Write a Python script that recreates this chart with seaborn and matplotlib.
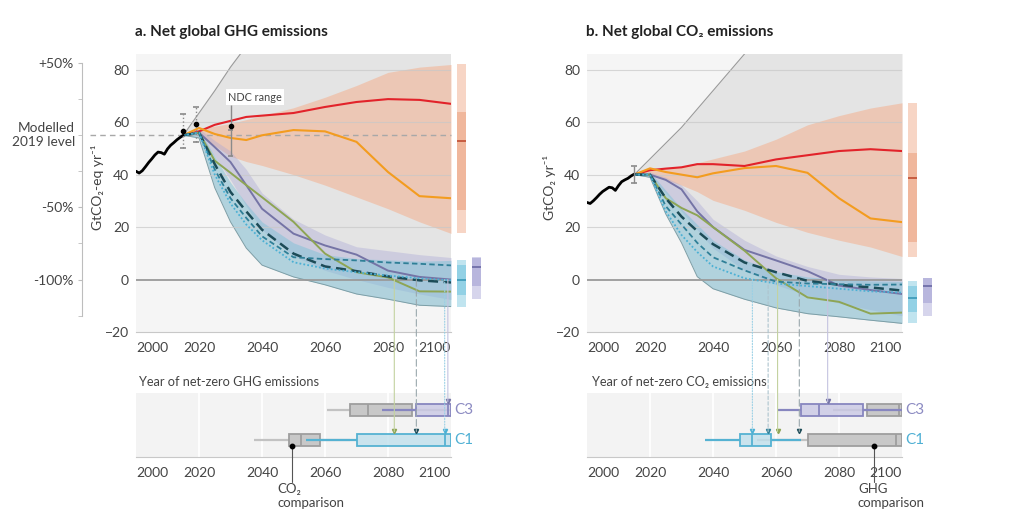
import numpy as np
import pandas as pd
import seaborn as sns
import matplotlib.pyplot as plt
import matplotlib.transforms as mtransforms
from matplotlib.patches import ConnectionPatch

# Historical emissions (black line)
hist_years = list(range(2000, 2016))
hist_ghg = [41.3, 40.6, 41.5, 43.0, 44.6, 46.0, 47.5, 48.6, 48.4, 47.8, 49.8, 51.2, 52.2, 53.3, 54.2, 55.0]
hist_co2 = [29.4, 29.0, 30.0, 31.2, 32.5, 33.6, 34.4, 35.2, 35.0, 34.0, 35.8, 37.3, 38.0, 38.6, 39.5, 40.2]

# scenario years shared by every pathway / range
years = [2015, 2020, 2025, 2030, 2035, 2040, 2050, 2060, 2070, 2080, 2090, 2100]

# a. net GHG (GtCO2-eq/yr)
grey_up_a = [55, 63.5, 72, 81, 89, 97, 113, 129, 145, 161, 177, 193]
ora_hi_a = [55, 57.5, 58.5, 59.5, 61, 62.5, 65.5, 69.5, 74, 79, 81, 82]
ora_lo_a = [55, 55, 51, 47, 45, 43.5, 40, 36, 31.5, 27, 22, 17.6]
c3_hi_a = [55, 57.5, 53, 49, 42, 33, 23, 17, 12.5, 11, 9.5, 8.4]
c3_lo_a = [55, 55, 47, 38, 28, 19, 9, 3.5, 0, -3, -5.5, -7.6]
c1_hi_a = [55, 57, 47, 37, 29, 22, 14, 9.5, 8, 7.5, 7, 7.3]
c1_lo_a = [55, 54, 35, 22, 12, 5.5, 1, -2, -5.5, -7.5, -9.8, -10.3]
curpol_a = [55, 56.5, 59, 60.5, 62, 62.5, 63.5, 65.8, 67.7, 68.8, 68.5, 67]
modact_a = [55, 57.8, 55.5, 54, 53.2, 55, 57, 56.5, 52.5, 41, 31.8, 31]
gs_a = [55, 56, 50.5, 44.8, 36, 27, 17.5, 13, 9.5, 3.4, 1, 0]
neg_a = [55, 56, 45.3, 40.7, 36, 31.4, 22, 9.9, 2.8, 0.8, -4.5, -4.6]
ren_a = [55, 56, 44, 33.4, 26, 19, 9.9, 5, 3.2, 1.2, -0.3, -1.1]
sp_a = [55, 56, 42, 31, 23.5, 16.5, 8.5, 7.8, 7.3, 6.5, 6, 5.4]
ld_a = [55, 56, 40, 29, 21, 15, 6.6, 4.2, 2.8, 1.5, 0.5, -0.3]

# b. net CO2 (GtCO2/yr)
grey_up_b = [40, 46, 52, 58, 65, 72, 86, 100, 114, 128, 142, 156]
ora_hi_b = [40, 42, 42.5, 43, 44.5, 46, 49, 53.5, 59, 62.5, 65.4, 67.4]
ora_lo_b = [40, 40, 38, 36, 33.5, 30.2, 26.4, 21.8, 18, 15, 12.4, 8.8]
c3_hi_b = [40, 41, 39, 36, 30, 23, 15, 9, 5, 2, 1, 0.4]
c3_lo_b = [40, 39, 33, 26, 19, 12, 3.5, -2, -6, -9, -11.5, -13.8]
c1_hi_b = [40, 41, 34, 27, 21, 15, 7.5, 3, 1, 0, -0.5, -0.7]
c1_lo_b = [40, 39, 25, 14, 1.1, -3.5, -7.5, -10.8, -13, -14.2, -15.5, -16.7]
curpol_b = [40, 41.7, 42.3, 42.8, 44, 44, 43.3, 45.8, 47.4, 49, 49.7, 49]
modact_b = [40, 42.4, 41, 40, 39, 40.5, 42.5, 43.3, 40.7, 31, 23.3, 21.9]
gs_b = [40, 40, 38, 34.4, 26, 20, 11.3, 7.3, 3.2, -2.3, -4, -5.5]
neg_b = [40, 40, 31, 27.3, 24.5, 20, 11, 0.5, -6.8, -8.5, -13, -12.6]
ren_b = [40, 40, 31, 24, 18.5, 13.5, 6.5, 2.8, -0.5, -2, -3, -4.2]
sp_b = [40, 40, 28, 21, 14, 8.5, 3.5, -0.8, -1.5, -1.8, -2, -1.9]
ld_b = [40, 40, 26, 17, 10.5, 5, 0.5, -1.5, -2.5, -3.5, -4.5, -5]

# 2100 ranges (p5, p25, median, p75, p95) shown as bars right of the panels
bar_ora_a = [17.6, 26.4, 53, 64, 82]
bar_c1_a = [-10.3, -6, 0, 5.4, 7.3]
bar_c3_a = [-7.6, -2.3, 4.6, 8.4, 8.6]
bar_ora_b = [8.5, 14.3, 38.7, 48.3, 67.4]
bar_c1_b = [-16.7, -12.5, -7.1, -2.3, -0.7]
bar_c3_b = [-13.8, -9, -2.5, 0.4, 0.6]

# error bars: year, point, low, high
err_years_a = [2015, 2019, 2030]
err_mid_a = [56.6, 59.2, 58.5]
err_lo_a = [50, 52.4, 47]
err_hi_a = [63, 65.7, 57]
err_lo_b = 36.8
err_hi_b = 43.3

# year of net zero: whislo, q1, median, q3, whishi
nz_ghg_c1 = [2054, 2070, 2098, 2100, 2100]
nz_ghg_c3 = [2078, 2089, 2099, 2100, 2100]
nz_co2_c1 = [2037.5, 2048.5, 2052.5, 2058.5, 2068]
nz_co2_c3 = [2060.5, 2068, 2073.5, 2087.5, 2100]

# illustrative pathway net-zero years (triangles + connector lines)
nz_paths_a = ["Neg", "Ren", "LD", "GS"]
nz_years_a = [2082, 2089, 2098, 2099]
nz_rows_a = ["C1", "C1", "C1", "C3"]
nz_paths_b = ["LD", "SP", "Neg", "Ren", "GS"]
nz_years_b = [2052.5, 2057.5, 2060.5, 2067.4, 2076.4]
nz_rows_b = ["C1", "C1", "C1", "C1", "C3"]
comparison_dot_a = 2049.6
comparison_dot_b = 2091

path_colors = {"CurPol": "#e2232a", "ModAct": "#f39c1f", "GS": "#7574a6", "Neg": "#8ea554",
               "Ren": "#1c4b57", "SP": "#2f7f97", "LD": "#4bb0d4"}
path_widths = {"CurPol": 1.5, "ModAct": 1.5, "GS": 1.4, "Neg": 1.4, "Ren": 1.8, "SP": 1.3, "LD": 1.3}
path_dashes = {"CurPol": "", "ModAct": "", "GS": "", "Neg": "", "Ren": (4, 2.2), "SP": (3, 1.8), "LD": (1, 1.2)}
conn_colors = {"GS": "#c4c3e0", "Neg": "#c3d2a0", "Ren": "#9aa8ad", "SP": "#adc4ce", "LD": "#9ad0e5"}
conn_dashes = {"GS": "-", "Neg": "-", "Ren": (0, (6, 3)), "SP": (0, (3, 2)), "LD": (0, (1, 1.5))}
row_pos = {"C1": 0, "C3": 1}

sns.set_style("white")
plt.rcParams["font.family"] = ["Liberation Sans Narrow", "Lato", "DejaVu Sans"]
TXT = "#444444"

fig = plt.figure(figsize=(10.24, 5.32), dpi=100)


def fx(px):
    return px / 1024


def fy(py):
    return 1 - py / 532


ax_a = fig.add_axes([fx(136), fy(332), fx(315), 278 / 532])
ax_b = fig.add_axes([fx(587), fy(332), fx(315), 278 / 532])
bx_a = fig.add_axes([fx(136), fy(457), fx(315), 64 / 532])
bx_b = fig.add_axes([fx(587), fy(457), fx(315), 64 / 532])


def year_ticks(ax):
    ax.set_xticks([2000, 2020, 2040, 2060, 2080, 2100])
    labels = ax.get_xticklabels()
    labels[0].set_ha("left")
    labels[-1].set_ha("right")
    ax.tick_params(axis="x", length=3, color="#c4c4c4", labelsize=10, labelcolor=TXT, pad=4)
    for s in ["top", "right", "left"]:
        ax.spines[s].set_visible(False)
    ax.spines["bottom"].set_color("#c8c8c8")


def draw_bar(ax, xc, stats, light, dark, med_color):
    p5, p25, med, p75, p95 = stats
    ax.bar(xc, p95 - p5, bottom=p5, width=2.9, color=light, lw=0, clip_on=False)
    ax.bar(xc, p75 - p25, bottom=p25, width=2.9, color=dark, lw=0, clip_on=False)
    ax.hlines(med, xc - 1.45, xc + 1.45, color=med_color, lw=1.3, clip_on=False)


def draw_top(ax, hist, grey_up, ora_lo, ora_hi, c3_lo, c3_hi, c1_lo, c1_hi, paths, bars):
    ax.set_facecolor("#f5f5f5")
    ax.fill_between(years, c1_lo, grey_up, color="#e4e4e4", lw=0, zorder=1)
    ax.plot(years, grey_up, color="#9a9a9a", lw=0.8, zorder=1.1)
    ax.fill_between(years, ora_lo, ora_hi, color="#f2b596", alpha=0.6, lw=0, zorder=1)
    ax.fill_between(years, c3_lo, c3_hi, color="#a9a6d6", alpha=0.38, lw=0, zorder=1)
    ax.fill_between(years, c1_lo, c1_hi, color="#7fc1d8", alpha=0.5, lw=0, zorder=1)
    ax.plot(years, c1_lo, color="#7d9ea6", lw=0.7, zorder=1.1)
    for y in [20, 40, 60, 80]:
        ax.axhline(y, color="#c8c8c8", lw=0.8, alpha=0.7, zorder=1.2)
    ax.axhline(0, color="#9a9a9a", lw=1.3, zorder=1.5)

    df = pd.concat([pd.DataFrame({"year": years, "value": v, "path": k}) for k, v in paths.items()])
    sns.lineplot(data=df, x="year", y="value", hue="path", size="path", style="path",
                 palette=path_colors, sizes=path_widths, dashes=path_dashes,
                 estimator=None, sort=False, legend=False, ax=ax, zorder=3)
    sns.lineplot(x=hist_years, y=hist, color="black", lw=2.0, ax=ax, zorder=3)

    draw_bar(ax, 2103.3, bars[0], "#f7d5c5", "#f0b79c", "#c4553a")
    draw_bar(ax, 2103.3, bars[1], "#c0e4ef", "#92d1e5", "#3f9cba")
    draw_bar(ax, 2108.0, bars[2], "#d6d5ec", "#b8b6dd", "#6f6ea8")

    ax.set_xlim(2000, 2100)
    ax.set_ylim(-20, 86)
    ax.set_yticks([-20, 0, 20, 40, 60, 80])
    ax.tick_params(axis="y", length=0, labelsize=10, labelcolor=TXT, pad=5)
    ax.set_xlabel("")
    ax.set_ylabel("")
    year_ticks(ax)


def draw_box(ax, row, stats, face, edge, whisk, alpha, z):
    lo, q1, med, q3, hi = stats
    ax.hlines(row, lo, q1, color=whisk, lw=1.6, zorder=z)
    ax.hlines(row, q3, hi, color=whisk, lw=1.6, zorder=z)
    ax.barh(row, q3 - q1, left=q1, height=0.43, color=face, alpha=alpha, lw=0, zorder=z)
    ax.barh(row, q3 - q1, left=q1, height=0.43, fill=False, edgecolor=edge, lw=1.3, zorder=z + 0.1)
    ax.vlines(med, row - 0.215, row + 0.215, color=edge, lw=1.3, zorder=z + 0.1)


def draw_bottom(ax, grey_c1, grey_c3, col_c1, col_c3):
    ax.set_facecolor("#f3f3f3")
    for x in [2020, 2040, 2060, 2080]:
        ax.axvline(x, color="white", lw=1.3, zorder=0.5)
    draw_box(ax, 1, grey_c3, "#c8c8c8", "#9e9e9e", "#c2c2c2", 1.0, 2)
    draw_box(ax, 0, grey_c1, "#c8c8c8", "#9e9e9e", "#c2c2c2", 1.0, 2)
    draw_box(ax, 1, col_c3, "#c9c8e4", "#8786bf", "#8786bf", 0.8, 3)
    draw_box(ax, 0, col_c1, "#bfe0ec", "#55b2d2", "#55b2d2", 0.8, 3)
    ax.text(2101, 1, "C3", color="#8c8bc2", fontsize=11, va="center", ha="left", clip_on=False)
    ax.text(2101, 0, "C1", color="#4fb0d4", fontsize=11, va="center", ha="left", clip_on=False)
    ax.set_xlim(2000, 2100)
    ax.set_ylim(-0.567, 1.567)
    ax.set_yticks([])
    year_ticks(ax)


def connect(top, bottom, paths, yrs, rows):
    for p, yr, r in zip(paths, yrs, rows):
        con = ConnectionPatch(xyA=(yr, 0), coordsA=top.transData,
                              xyB=(yr, row_pos[r] + 0.28), coordsB=bottom.transData,
                              color=conn_colors[p], lw=0.8, linestyle=conn_dashes[p], zorder=4)
        fig.add_artist(con)
        bottom.plot(yr, row_pos[r] + 0.3, marker="v", ms=3, color=path_colors[p], zorder=5, clip_on=False)


def comparison(ax, x, text, text_px):
    ax.plot([x, x], [-0.2, -1.4], color="#555555", lw=0.8, clip_on=False, zorder=5)
    ax.plot(x, -0.2, "o", ms=3.2, color="black", zorder=6, clip_on=False)
    fig.text(fx(text_px), fy(483), text, ha="left", va="top", fontsize=9.5, color=TXT, linespacing=1.2)


paths_a = {"CurPol": curpol_a, "ModAct": modact_a, "GS": gs_a, "Neg": neg_a, "Ren": ren_a, "SP": sp_a, "LD": ld_a}
paths_b = {"CurPol": curpol_b, "ModAct": modact_b, "GS": gs_b, "Neg": neg_b, "Ren": ren_b, "SP": sp_b, "LD": ld_b}

draw_top(ax_a, hist_ghg, grey_up_a, ora_lo_a, ora_hi_a, c3_lo_a, c3_hi_a, c1_lo_a, c1_hi_a,
         paths_a, [bar_ora_a, bar_c1_a, bar_c3_a])
draw_top(ax_b, hist_co2, grey_up_b, ora_lo_b, ora_hi_b, c3_lo_b, c3_hi_b, c1_lo_b, c1_hi_b,
         paths_b, [bar_ora_b, bar_c1_b, bar_c3_b])

# error bars panel a
for i, yr in enumerate(err_years_a):
    ls = ":" if yr < 2030 else "-"
    ax_a.vlines(yr, err_lo_a[i], err_hi_a[i], color="#8a8a8a", lw=1.0, linestyles=ls, zorder=4)
    ax_a.hlines([err_lo_a[i], err_hi_a[i]], yr - 0.9, yr + 0.9, color="#8a8a8a", lw=1.2, zorder=4)
    ax_a.plot(yr, err_mid_a[i], "o", ms=3.0, color="black", zorder=5)
ax_a.vlines(2030, err_hi_a[2], 66.5, color="#8a8a8a", lw=1.0, zorder=4)
ax_a.text(2029.2, 69.6, "NDC range", fontsize=7.8, color=TXT, va="center", ha="left", zorder=6,
          bbox=dict(facecolor="white", edgecolor="none", pad=1.5))
# error bar panel b
ax_b.vlines(2015, err_lo_b, err_hi_b, color="#8a8a8a", lw=1.0, zorder=4)
ax_b.hlines([err_lo_b, err_hi_b], 2014.1, 2015.9, color="#8a8a8a", lw=1.2, zorder=4)

# modelled 2019 level reference line and percentage axis
base = 55
blend = mtransforms.blended_transform_factory(ax_a.transAxes, ax_a.transData)
ax_a.plot([-0.146, 1], [base, base], transform=blend, color="#a8a8a8", lw=1.0,
          dashes=(4, 3), clip_on=False, zorder=2)
sec = ax_a.secondary_yaxis(-0.171, functions=(lambda v: v / base * 100 - 100,
                                             lambda p: (p + 100) * base / 100))
sec.set_yticks([50, -50, -100], labels=["+50%", "-50%", "-100%"])
sec.set_yticks([25, 0, -25, -75, -125], minor=True)
sec.spines["left"].set_bounds(-125, 50)
sec.spines["left"].set_color("#bdbdbd")
sec.tick_params(which="both", colors="#bdbdbd", labelcolor=TXT, length=3, labelsize=10, pad=3)
fig.text(fx(75), fy(135), "Modelled\n2019 level", ha="right", va="center", fontsize=9.8,
         color=TXT, linespacing=1.1)

draw_bottom(bx_a, nz_co2_c1, nz_co2_c3, nz_ghg_c1, nz_ghg_c3)
draw_bottom(bx_b, nz_ghg_c1, nz_ghg_c3, nz_co2_c1, nz_co2_c3)
connect(ax_a, bx_a, nz_paths_a, nz_years_a, nz_rows_a)
connect(ax_b, bx_b, nz_paths_b, nz_years_b, nz_rows_b)
comparison(bx_a, comparison_dot_a, "CO₂\ncomparison", 277)
comparison(bx_b, comparison_dot_b, "GHG\ncomparison", 858)

# titles and axis texts
title_font = ["Lato", "DejaVu Sans"]
fig.text(fx(135), fy(32), "a. Net global GHG emissions", fontsize=11, weight="bold",
         family=title_font, color="#222222", va="center")
fig.text(fx(586), fy(32), "b. Net global CO₂ emissions", fontsize=11, weight="bold",
         family=title_font, color="#222222", va="center")
fig.text(fx(97), fy(187), "GtCO₂-eq yr⁻¹", rotation=90, ha="center", va="center", fontsize=10, color=TXT)
fig.text(fx(549), fy(187), "GtCO₂ yr⁻¹", rotation=90, ha="center", va="center", fontsize=10, color=TXT)
fig.text(fx(139), fy(382), "Year of net-zero GHG emissions", fontsize=9.2, color=TXT, va="center")
fig.text(fx(592), fy(382), "Year of net-zero CO₂ emissions", fontsize=9.2, color=TXT, va="center")

fig.savefig("out.png", dpi=100)
